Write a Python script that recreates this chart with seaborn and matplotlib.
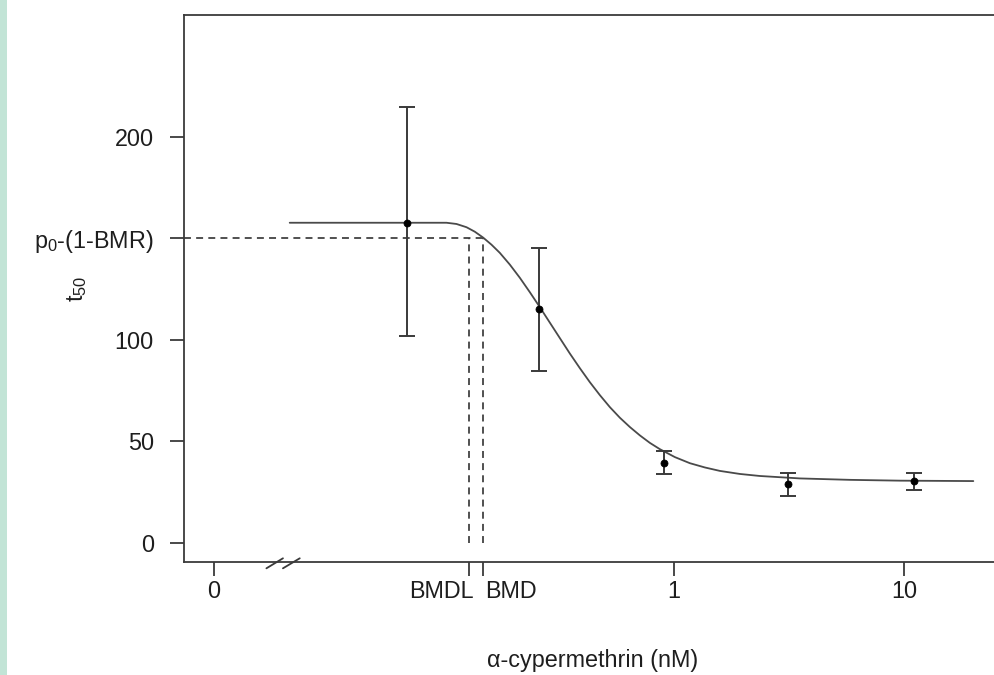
import numpy as np
import pandas as pd
import matplotlib
matplotlib.use("Agg")
import matplotlib.pyplot as plt
import matplotlib.transforms as mtransforms
from matplotlib.patches import Rectangle
import seaborn as sns

# Observed t50 per dose (mean with interval bounds)
dose = [0.0695, 0.2597, 0.902, 3.13, 11.05]
t50_mean = [157.7, 115.3, 39.4, 28.9, 30.4]
t50_lower = [101.7, 84.8, 34.1, 23.1, 25.9]
t50_upper = [214.6, 145.1, 45.3, 34.6, 34.6]

# Fitted dose-response curve
curve_dose = [0.02140, 0.10274, 0.11355, 0.12552, 0.13637, 0.14823, 0.16118,
              0.17512, 0.19364, 0.21405, 0.23660, 0.26155, 0.28905, 0.31946,
              0.35311, 0.39022, 0.43128, 0.47692, 0.52705, 0.58229, 0.64391,
              0.71141, 0.78648, 0.86940, 1.0101, 1.1737, 1.3636, 1.5849,
              1.9360, 2.3652, 3.5305, 5.8250, 9.6077, 20.012]
curve_t50 = [157.7, 157.7, 157.1, 155.5, 153.3, 150.4, 146.9,
             142.9, 137.1, 130.6, 123.5, 116.1, 108.5, 100.9,
             93.3, 86.1, 79.2, 72.8, 66.9, 61.7, 57.1,
             53.0, 49.3, 46.2, 42.3, 39.3, 37.2, 35.5,
             34.0, 33.0, 31.8, 31.1, 30.7, 30.5]

# Benchmark dose results
bmdl = 0.1284
bmd = 0.1484
critical_t50 = 150

# Axis ticks
zero_pos = 0.01
x_ticks = [zero_pos, bmdl, bmd, 1, 10]
x_tick_labels = ["0", "BMDL", "BMD", "1", "10"]
y_ticks = [0, 50, 100, critical_t50, 200]
y_tick_labels = ["0", "50", "100", r"$\mathregular{p_0}$-(1-BMR)", "200"]

sns.set_style("ticks")
plt.rcParams["font.family"] = ["Liberation Sans", "DejaVu Sans"]
plt.rcParams["mathtext.fontset"] = "custom"
plt.rcParams["mathtext.rm"] = "Liberation Sans"
plt.rcParams["mathtext.it"] = "Liberation Sans:italic"

line_col = "#3a3a3a"
txt_col = "#1e1e1e"
fs = 16.8

fig = plt.figure(figsize=(9.95, 6.75), dpi=100)
fig.patch.set_facecolor("white")
fig.patches.append(Rectangle((0, 0), 7 / 995, 1, transform=fig.transFigure,
                             facecolor="#c2e4d6", edgecolor="none", zorder=0))

ax = fig.add_axes([184 / 995, 1 - 562.3 / 675, 817 / 995, (562.3 - 15) / 675])
ax.set_facecolor("white")
ax.set_xscale("log")
ax.set_xlim(0.00743, 26.4)
ax.set_ylim(-9.5, 260)

# Benchmark guide lines
dash = (4, 3)
ax.plot([ax.get_xlim()[0], bmd], [critical_t50, critical_t50], color=line_col,
        lw=1.25, linestyle=(0, dash), zorder=2)
for xv in (bmdl, bmd):
    ax.plot([xv, xv], [0, critical_t50], color=line_col, lw=1.25,
            linestyle=(0, dash), zorder=2)

# Fitted curve
curve_df = pd.DataFrame({"dose": curve_dose, "t50": curve_t50})
sns.lineplot(data=curve_df, x="dose", y="t50", sort=False, estimator=None,
             color="#4a4a4a", linewidth=1.3, ax=ax, zorder=3)

# Observations with intervals
obs = pd.DataFrame({"dose": dose, "t50": t50_mean,
                    "lo": t50_lower, "hi": t50_upper})
ax.errorbar(obs["dose"], obs["t50"],
            yerr=[obs["t50"] - obs["lo"], obs["hi"] - obs["t50"]],
            fmt="none", ecolor=line_col, elinewidth=1.4, capsize=5.5,
            capthick=1.4, zorder=4)
sns.scatterplot(data=obs, x="dose", y="t50", color="black", s=26,
                edgecolor="black", linewidth=0.5, ax=ax, zorder=5)

# Axes frame: left, top, bottom drawn; right edge falls outside the canvas
for side in ("left", "top", "bottom"):
    ax.spines[side].set_color(line_col)
    ax.spines[side].set_linewidth(1.3)
ax.spines["right"].set_visible(False)

ax.xaxis.set_minor_locator(matplotlib.ticker.NullLocator())
ax.set_xticks(x_ticks)
ax.set_xticklabels(x_tick_labels)
ax.set_yticks(y_ticks)
ax.set_yticklabels(y_tick_labels)
ax.tick_params(axis="both", colors=line_col, labelcolor=txt_col,
               labelsize=fs, width=1.3, length=10.1)
ax.tick_params(axis="x", pad=2.5)
ax.tick_params(axis="y", pad=11.5)

labels = ax.get_xticklabels()
labels[1].set_ha("right")
labels[1].set_transform(labels[1].get_transform() +
                        mtransforms.ScaledTranslation(5 / 100, 0, fig.dpi_scale_trans))
labels[2].set_ha("left")
labels[2].set_transform(labels[2].get_transform() +
                        mtransforms.ScaledTranslation(2 / 100, 0, fig.dpi_scale_trans))

# Axis break marks near the zero position
brk = mtransforms.blended_transform_factory(ax.transData, ax.transAxes)
for x0, x1 in ((0.01695, 0.0200), (0.0200, 0.02366)):
    ax.plot([x0, x1], [-0.011, 0.0073], color=line_col, lw=1.3,
            transform=brk, clip_on=False, zorder=6)

ax.set_xlabel("\u03b1-cypermethrin (nM)", fontsize=fs, color=txt_col)
ax.xaxis.set_label_coords(0.5, -0.1913)
ax.xaxis.label.set_va("baseline")
ax.set_ylabel(r"$\mathregular{t_{50}}$", fontsize=fs, color=txt_col)
ax.yaxis.set_label_coords(-0.131, 0.5)
ax.yaxis.label.set_va("center")

fig.savefig("out.png", dpi=100)
